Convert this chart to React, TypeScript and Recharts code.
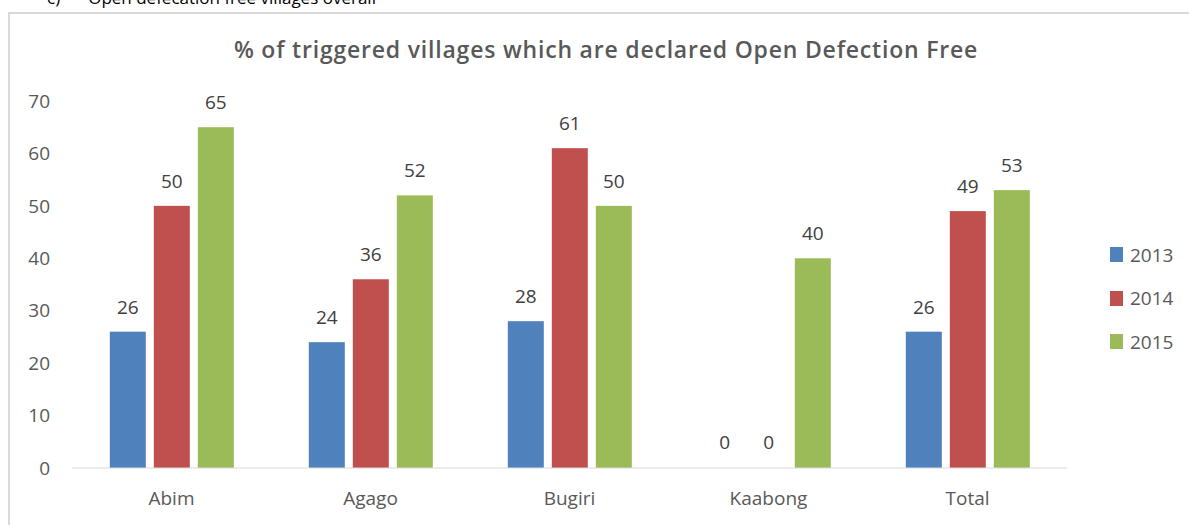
import { BarChart, Bar, XAxis, YAxis, LabelList } from 'recharts';

const districts = ['Abim', 'Agago', 'Bugiri', 'Kaabong', 'Total'];
const y2013 = [26, 24, 28, 0, 26];
const y2014 = [50, 36, 61, 0, 49];
const y2015 = [65, 52, 50, 40, 53];
const yTicks = [0, 10, 20, 30, 40, 50, 60, 70];

const SERIES = [
    { key: '2013', color: '#4F81BD' },
    { key: '2014', color: '#C0504D' },
    { key: '2015', color: '#9BBB59' },
];

const FONT = '"Open Sans", sans-serif';

const chartData = districts.map((name, i) => ({
    name,
    '2013': y2013[i],
    '2014': y2014[i],
    '2015': y2015[i],
}));

// draws the value above each bar, zero bars included
const renderValue = (props: any) => {
    const { x, y, width, value } = props;
    return (
        <text x={x + width / 2} y={y - 18} textAnchor="middle" fill="#404040" fontSize={19} fontFamily={FONT}>
            {value}
        </text>
    );
};

// zero values get a 1px stub (minPointSize) so the label survives; hide the stub
const renderBar = (props: any) => {
    const { x, y, width, height, fill } = props;
    if (height <= 1.5) return <g />;
    return <rect x={x} y={y} width={width} height={height} fill={fill} />;
};

export default function App() {
    return (
        <div style={{ position: 'absolute', left: 0, top: 0, width: 1189, height: 525, overflow: 'hidden', background: '#fff' }}>
            {/* caption cut off at the top of the page */}
            <div style={{ position: 'absolute', left: 47, top: -14, fontFamily: FONT, fontSize: 17, color: '#000', whiteSpace: 'pre' }}>
                <span>c)</span>
                <span style={{ marginLeft: 28 }}>Open defecation free villages overall</span>
            </div>
            {/* chart frame */}
            <div style={{ position: 'absolute', left: 8, top: 12, width: 1300, height: 600, borderLeft: '2px solid #d9d9d9', borderTop: '2px solid #d9d9d9' }} />
            <div style={{ position: 'absolute', left: 0, width: 1212, top: 33, textAlign: 'center', fontFamily: FONT, fontWeight: 600, fontSize: 23, letterSpacing: 0.8, color: '#595959' }}>
                % of triggered villages which are declared Open Defection Free
            </div>
            <div style={{ position: 'absolute', left: 0, top: 0 }}>
                <BarChart
                    width={1189}
                    height={525}
                    data={chartData}
                    margin={{ top: 101, right: 122, bottom: 27, left: 12 }}
                    barCategoryGap="19%"
                    barGap={8}
                >
                    <XAxis
                        dataKey="name"
                        height={30}
                        axisLine={{ stroke: '#d9d9d9' }}
                        tickLine={false}
                        tickMargin={18}
                        tick={{ fill: '#595959', fontSize: 19, fontFamily: FONT }}
                    />
                    <YAxis
                        width={60}
                        domain={[0, 70]}
                        ticks={yTicks}
                        axisLine={false}
                        tickLine={false}
                        tickMargin={16}
                        tick={{ fill: '#595959', fontSize: 19, fontFamily: FONT }}
                    />
                    {SERIES.map(s => (
                        <Bar key={s.key} dataKey={s.key} fill={s.color} minPointSize={1} shape={renderBar} isAnimationActive={false}>
                            <LabelList dataKey={s.key} content={renderValue} />
                        </Bar>
                    ))}
                </BarChart>
            </div>
            {/* legend */}
            <div style={{ position: 'absolute', left: 1110, top: 233, fontFamily: FONT, fontSize: 19, color: '#595959' }}>
                {SERIES.map(s => (
                    <div key={s.key} style={{ display: 'flex', alignItems: 'center', height: 43.5 }}>
                        <span style={{ width: 13, height: 15, background: s.color, marginRight: 7, display: 'inline-block' }} />
                        <span>{s.key}</span>
                    </div>
                ))}
            </div>
        </div>
    );
}
